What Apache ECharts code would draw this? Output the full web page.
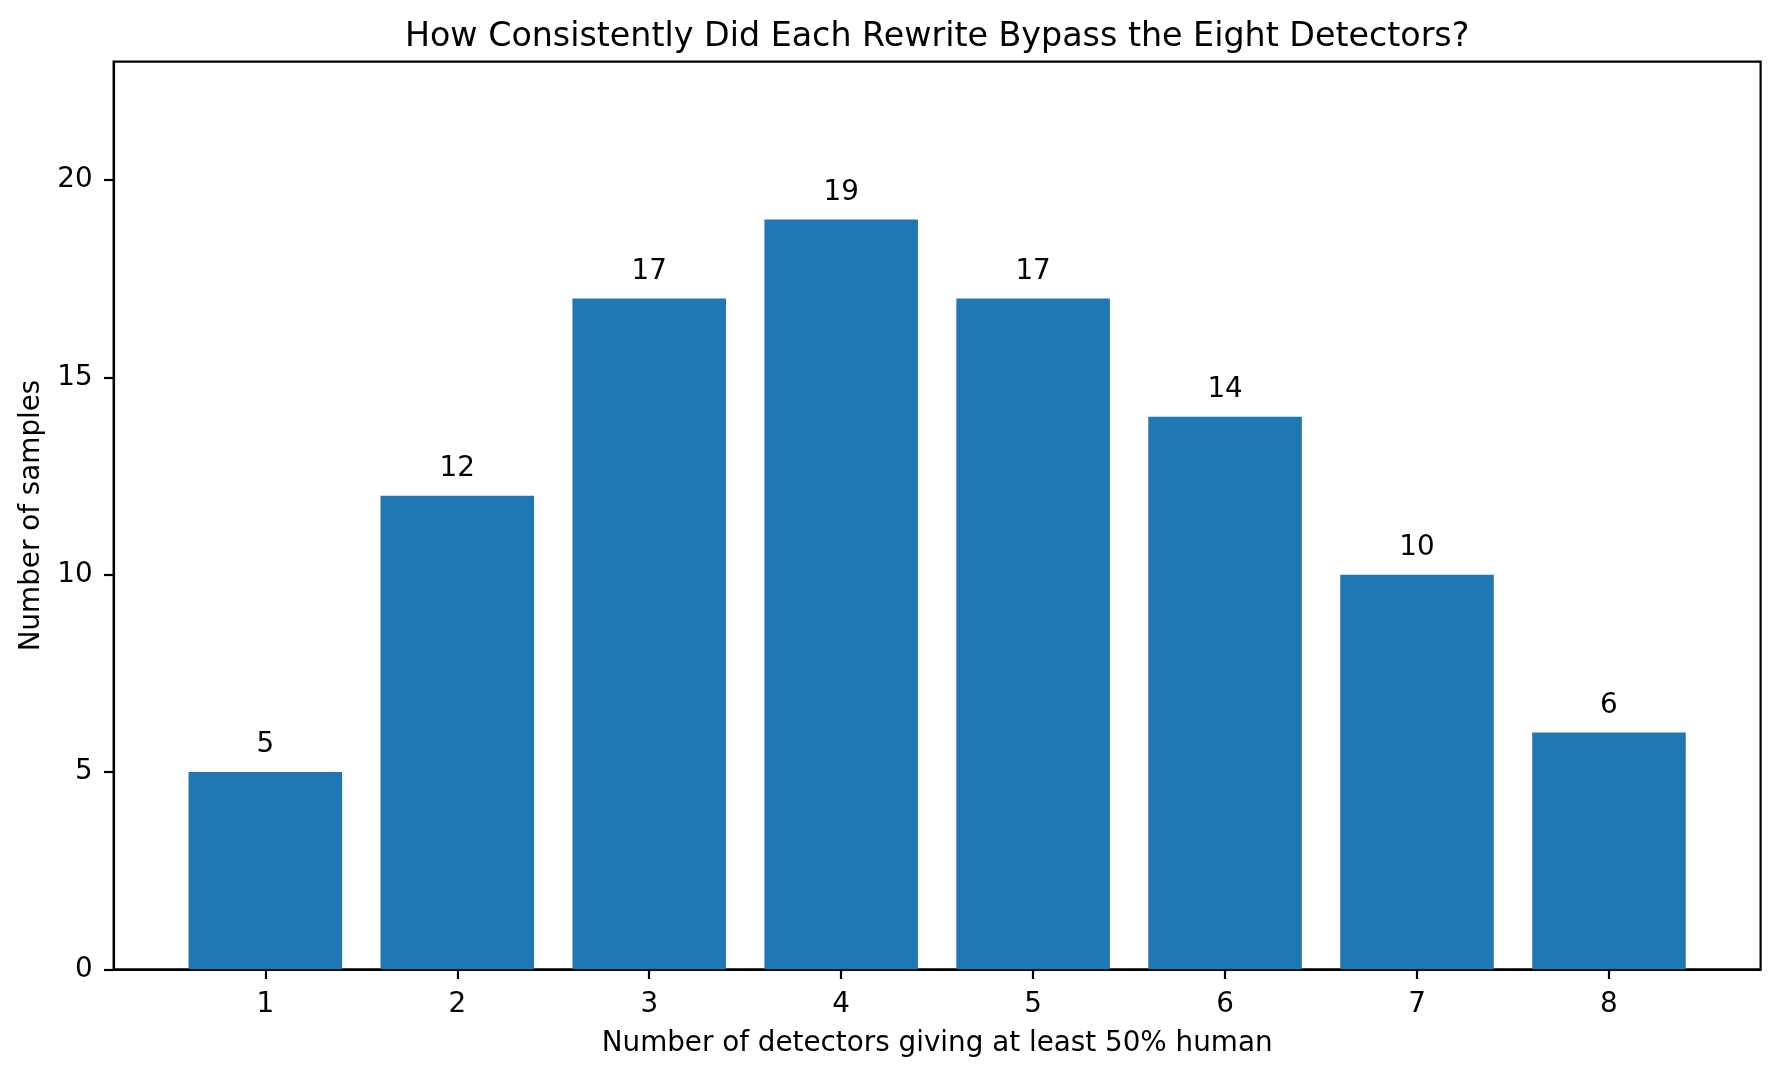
<!DOCTYPE html>
<html>
<head>
<meta charset="utf-8">
<title>Detector bypass counts</title>
<script src="https://cdn.jsdelivr.net/npm/echarts@6/dist/echarts.min.js"></script>
<style>
  html, body { margin: 0; padding: 0; background: #fff; }
  #chart { width: 1780px; height: 1077px; }
</style>
</head>
<body>
<div id="chart"></div>
<script>
// number of detectors (out of 8) that called the rewrite at least 50% human
var detectorCounts = [1, 2, 3, 4, 5, 6, 7, 8];
// how many samples fall in each bucket
var sampleCounts = [5, 12, 17, 19, 17, 14, 10, 6];
var yTicks = [0, 5, 10, 15, 20];

var chartTitle = 'How Consistently Did Each Rewrite Bypass the Eight Detectors?';
var xName = 'Number of detectors giving at least 50% human';
var yName = 'Number of samples';

var font = 'DejaVu Sans';
var gridLeft = 113.7, gridRight = 19.4, gridTop = 61.7, gridBottom = 107.7;
var xMin = 0.21, xMax = 8.79;

var chart = echarts.init(document.getElementById('chart'));
var plotW = 1780 - gridLeft - gridRight;
var barW = plotW / (xMax - xMin) * 0.8;

chart.setOption({
  animation: false,
  backgroundColor: '#fff',
  title: {
    text: chartTitle,
    left: gridLeft + plotW / 2,
    top: 21,
    padding: 0,
    textAlign: 'center',
    textStyle: { fontFamily: font, fontSize: 33.3, fontWeight: 'normal', color: '#000' }
  },
  grid: {
    left: gridLeft, right: gridRight, top: gridTop, bottom: gridBottom,
    show: true, borderColor: '#000', borderWidth: 2.2, backgroundColor: 'transparent'
  },
  xAxis: {
    type: 'value',
    min: xMin,
    max: xMax,
    name: xName,
    nameLocation: 'middle',
    nameGap: 60,
    nameTextStyle: { fontFamily: font, fontSize: 27.8, color: '#000' },
    splitLine: { show: false },
    axisLine: { show: true, lineStyle: { color: '#000', width: 2.2 } },
    axisTick: { show: true, length: 9.7, lineStyle: { color: '#000', width: 2.2 }, customValues: detectorCounts },
    axisLabel: { fontFamily: font, fontSize: 27.8, color: '#000', margin: 21, customValues: detectorCounts }
  },
  yAxis: {
    type: 'value',
    min: 0,
    max: 23,
    name: yName,
    nameLocation: 'middle',
    nameGap: 68,
    nameTextStyle: { fontFamily: font, fontSize: 27.8, color: '#000' },
    splitLine: { show: false },
    axisLine: { show: true, lineStyle: { color: '#000', width: 2.2 } },
    axisTick: { show: true, length: 9.7, lineStyle: { color: '#000', width: 2.2 }, customValues: yTicks },
    axisLabel: { fontFamily: font, fontSize: 27.8, color: '#000', margin: 21, customValues: yTicks }
  },
  series: [{
    type: 'bar',
    barWidth: barW,
    data: detectorCounts.map(function(d, i) { return [d, sampleCounts[i]]; }),
    itemStyle: { color: '#1f77b4' },
    label: {
      show: true,
      position: 'top',
      distance: 13,
      fontFamily: font,
      fontSize: 27.8,
      color: '#000',
      formatter: function(p) { return p.value[1]; }
    }
  }]
});
</script>
</body>
</html>
